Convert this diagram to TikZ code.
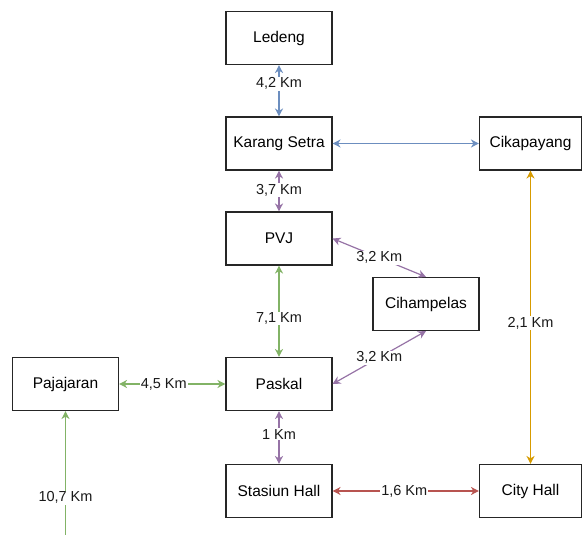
\documentclass[tikz,border=0pt]{standalone}
\usepackage{fontspec}
\setmainfont{Liberation Sans}
\usetikzlibrary{arrows.meta}
\definecolor{cblue}{HTML}{6C8EBF}
\definecolor{cpurple}{HTML}{9673A6}
\definecolor{cgreen}{HTML}{82B366}
\definecolor{cred}{HTML}{B85450}
\definecolor{corange}{HTML}{D79B00}
\tikzset{
  box/.style={draw=black!85, line width=1.1pt, minimum width=106pt, minimum height=53pt, inner sep=0pt, font=\fontsize{15.5}{18}\selectfont, fill=white},
  nbox/.style={box, minimum width=102pt},
  conn/.style={line width=1.2pt, {Stealth[length=8pt,width=8pt,inset=2.5pt]}-{Stealth[length=8pt,width=8pt,inset=2.5pt]}},
  conn1/.style={line width=1.2pt, -{Stealth[length=8pt,width=8pt,inset=2.5pt]}},
  lbl/.style={fill=white, inner sep=1pt, font=\fontsize{14.5}{17}\selectfont, text=black!90}
}
\begin{document}
\begin{tikzpicture}[x=1pt,y=-1pt]
\useasboundingbox (0,0) rectangle (582,535);
\node[box] (led) at (279,38) {Ledeng};
\node[box] (ks) at (279,143.5) {Karang Setra};
\node[nbox] (cik) at (530.5,143.5) {Cikapayang};
\node[box] (pvj) at (279,238.5) {PVJ};
\node[box] (cih) at (426,304) {Cihampelas};
\node[box] (paj) at (65.5,384) {Pajajaran};
\node[box] (pas) at (279,384) {Paskal};
\node[box] (sta) at (279,491) {Stasiun Hall};
\node[nbox] (city) at (530.5,491) {City Hall};
\coordinate (bot) at (65.5,535);

\draw[conn, cblue] (led) -- node[lbl, pos=0.36] {4,2 Km} (ks);
\draw[conn, cblue] (ks) -- (cik);
\draw[conn, cpurple] (ks) -- node[lbl, pos=0.48] {3,7 Km} (pvj);
\draw[conn, cpurple] (pvj.east) -- node[lbl, pos=0.5] {3,2 Km} (cih.north);
\draw[conn, cpurple] (pas.east) -- node[lbl, pos=0.5] {3,2 Km} (cih.south);
\draw[conn, cgreen] (pvj) -- node[lbl, pos=0.58] {7,1 Km} (pas);
\draw[conn, cgreen] (paj) -- node[lbl, pos=0.42] {4,5 Km} (pas);
\draw[conn1, cgreen] (bot) -- node[lbl, pos=0.3] {10,7 Km} (paj);
\draw[conn, cpurple] (pas) -- node[lbl, pos=0.44] {1 Km} (sta);
\draw[conn, cred] (sta) -- node[lbl, pos=0.49] {1,6 Km} (city);
\draw[conn, corange] (cik) -- node[lbl, pos=0.52] {2,1 Km} (city);
\end{tikzpicture}
\end{document}
